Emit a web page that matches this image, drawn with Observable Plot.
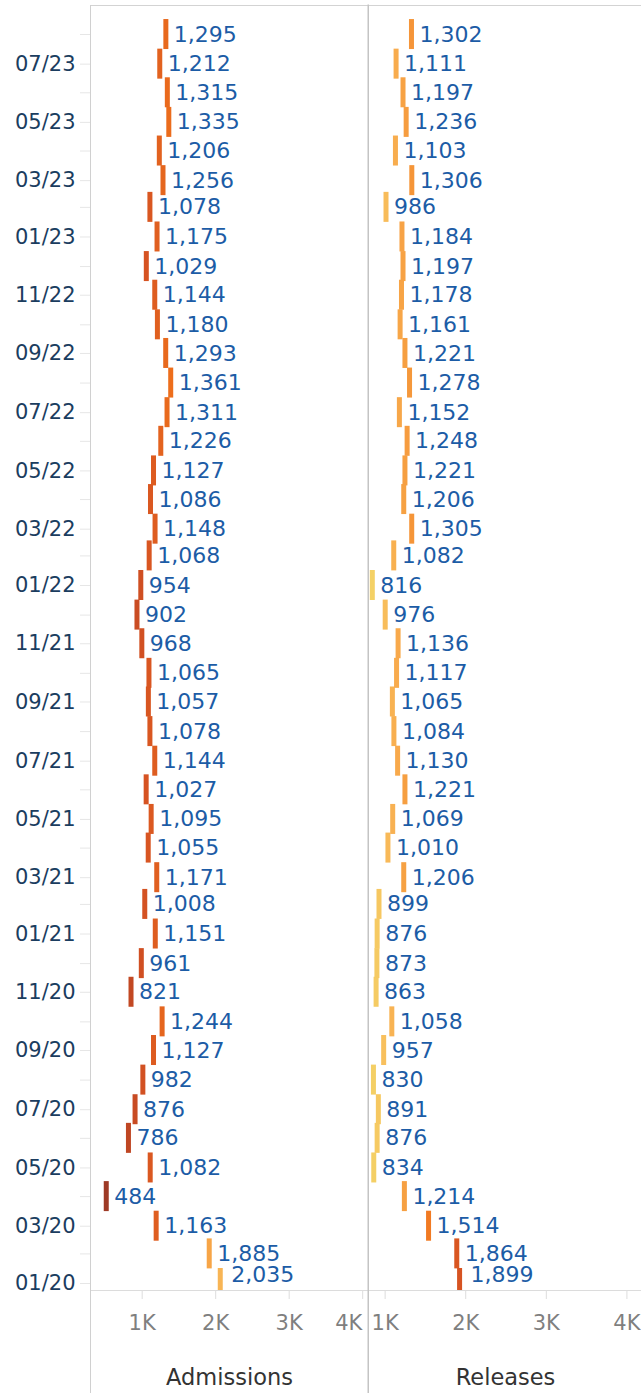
<!DOCTYPE html>
<html><head><meta charset="utf-8">
<script src="https://cdn.jsdelivr.net/npm/d3@7"></script>
<script src="https://cdn.jsdelivr.net/npm/@observablehq/plot@0.6"></script>
<style>
html,body{margin:0;padding:0;background:#fff;}
#chart{display:flex;width:641px;height:1393px;overflow:hidden;}
#chart svg{display:block;flex:none;}
</style></head><body><div id="chart"></div>
<script>
// Months (chronological)
const months = [
  "2020-01","2020-02","2020-03","2020-04","2020-05","2020-06","2020-07","2020-08","2020-09","2020-10","2020-11","2020-12",
  "2021-01","2021-02","2021-03","2021-04","2021-05","2021-06","2021-07","2021-08","2021-09","2021-10","2021-11","2021-12",
  "2022-01","2022-02","2022-03","2022-04","2022-05","2022-06","2022-07","2022-08","2022-09","2022-10","2022-11","2022-12",
  "2023-01","2023-02","2023-03","2023-04","2023-05","2023-06","2023-07","2023-08"
];
const admissions = [
  2035,1885,1163,484,1082,786,876,982,1127,1244,821,961,
  1151,1008,1171,1055,1095,1027,1144,1078,1057,1065,968,902,
  954,1068,1148,1086,1127,1226,1311,1361,1293,1180,1144,1029,
  1175,1078,1256,1206,1335,1315,1212,1295
];
const releases = [
  1899,1864,1514,1214,834,876,891,830,957,1058,863,873,
  876,899,1206,1010,1069,1221,1130,1084,1065,1117,1136,976,
  816,1082,1305,1206,1221,1248,1152,1278,1221,1161,1178,1197,
  1184,986,1306,1103,1236,1197,1111,1302
];
const labeledMonths = ["2020-01","2020-03","2020-05","2020-07","2020-09","2020-11",
  "2021-01","2021-03","2021-05","2021-07","2021-09","2021-11",
  "2022-01","2022-03","2022-05","2022-07","2022-09","2022-11",
  "2023-01","2023-03","2023-05","2023-07"];
const xTicks = [1000, 2000, 3000, 4000];
const titles = ["Admissions", "Releases"];
const goldOrange = ["#f4d166","#f8be5c","#f8aa4c","#f5983b","#f3852a","#ef701b","#e2621f","#d65322","#c54923","#b14023","#9e3a26"];

const toDate = m => new Date(m + "-01T00:00:00Z");
const H = 1393, MT = 5, MB = 103;
const yDomain = [new Date("2019-12-24T16:00:00Z"), new Date("2023-08-31T10:00:00Z")];
const FONT = "'DejaVu Sans', sans-serif";
const labelBlue = "#1c5ca6";

function panel({values, title, xDomain, width, marginLeft, marginRight, colorDomain, colorReverse, first}) {
  const data = months.map((m, i) => ({date: toDate(m), value: values[i]}));
  const firstDate = data[0].date;
  const fmt = d3.format(",");
  const marks = [
    Plot.frame({anchor: "top", stroke: "#d3d3d3"}),
    Plot.frame({anchor: "bottom", stroke: "#dcdcdc"}),
    Plot.frame({anchor: "left", stroke: "#d0d0d0", strokeWidth: first ? 1 : 0, insetBottom: -MB}),
    Plot.axisX({ticks: xTicks, tickSize: 9, tickFormat: () => "", stroke: "#dddddd", label: null}),
    Plot.axisX({ticks: first ? xTicks.slice(0, 3) : xTicks, tickSize: 0, tickPadding: 25, tickFormat: d => d / 1000 + "K", fill: "#7f7f7f", fontSize: 21, label: null}),
    Plot.rect(data, {x1: "value", x2: "value", y1: "date", y2: "date", insetRight: -5, insetTop: -15, insetBottom: -15, fill: "value", clip: true}),
    Plot.text(data.filter(d => d.date > firstDate), {x: "value", y: "date", text: d => fmt(d.value), dx: 10, textAnchor: "start", fill: labelBlue, fontSize: 22}),
    Plot.text(data.filter(d => +d.date === +firstDate), {x: "value", y: "date", text: d => fmt(d.value), dx: 13, dy: -9, textAnchor: "start", fill: labelBlue, fontSize: 22}),
    Plot.text([title], {frameAnchor: "bottom", dy: 94, fontSize: 22.5, fill: "#333333"})
  ];
  if (first) {
    marks.push(
      Plot.axisX({ticks: [4000], tickSize: 0, tickPadding: 25, tickFormat: d => d / 1000 + "K", fill: "#7f7f7f", fontSize: 21, dx: -14, label: null}),
      Plot.frame({anchor: "right", stroke: "#c4c4c4", strokeWidth: 2, insetBottom: -MB}),
      Plot.axisY({ticks: months.map(toDate), tickSize: 10, tickFormat: () => "", stroke: "#e6e6e6", label: null}),
      Plot.axisY({ticks: labeledMonths.map(toDate), tickSize: 0, tickPadding: 15, tickFormat: "%m/%y", fill: "#1b3d5f", fontSize: 21, label: null})
    );
  }
  return Plot.plot({
    width, height: H,
    marginTop: MT, marginBottom: MB, marginLeft, marginRight,
    style: {fontFamily: FONT, background: "#fff"},
    x: {domain: xDomain, axis: null},
    y: {type: "utc", domain: yDomain, axis: null},
    color: {type: "linear", domain: colorDomain, reverse: colorReverse, interpolate: d3.piecewise(d3.interpolateRgb, goldOrange)},
    marks
  });
}

const chart = document.getElementById("chart");
chart.appendChild(panel({values: admissions, title: titles[0], xDomain: [297, 4079], width: 369, marginLeft: 90, marginRight: 1,
  colorDomain: [480, 2300], colorReverse: true, first: true}));
chart.appendChild(panel({values: releases, title: titles[1], xDomain: [806, 4181], width: 272, marginLeft: 0, marginRight: 0,
  colorDomain: [816, 2363], colorReverse: false, first: false}));
</script>
</body></html>
